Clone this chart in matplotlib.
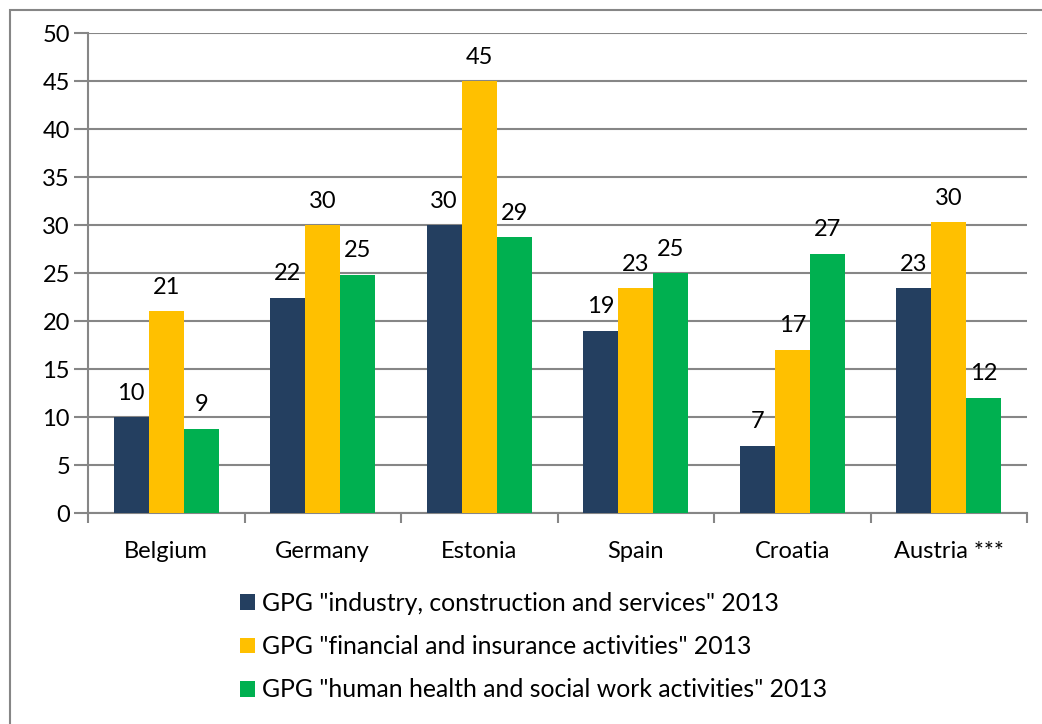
import numpy as np
import matplotlib.pyplot as plt
from matplotlib.patches import Rectangle

plt.rcParams['font.family'] = ['Lato', 'DejaVu Sans']

countries = ["Belgium", "Germany", "Estonia", "Spain", "Croatia", "Austria ***"]
industry = [10, 22.4, 30, 19, 7, 23.4]
financial = [21, 30, 45, 23.4, 17, 30.3]
health = [8.8, 24.8, 28.7, 25, 27, 12]
series_names = ['GPG "industry, construction and services" 2013',
                'GPG "financial and insurance activities" 2013',
                'GPG "human health and social work activities" 2013']
colors = ["#243f60", "#ffc000", "#00b050"]

fig = plt.figure(figsize=(10.42, 7.24), dpi=100)
# outer chart border
fig.patches.append(Rectangle((10 / 1042, -0.01), 1.02, 1 - 10 / 724 + 0.01,
                             transform=fig.transFigure, fill=False,
                             edgecolor="#868686", linewidth=1.5))
ax = fig.add_axes([88 / 1042, 1 - 513 / 724, (1027 - 88) / 1042, (513 - 33) / 724])

x = np.arange(len(countries))
w = 0.224
grey = "#868686"
fs = 17
for i, (vals, c) in enumerate(zip([industry, financial, health], colors)):
    pos = x + (i - 1) * w
    ax.bar(pos, vals, width=w, color=c, label=series_names[i], zorder=3)
    for p, v in zip(pos, vals):
        ax.text(p, v + 2.5, "%d" % round(v), ha="center", va="center", fontsize=fs)

ax.set_ylim(0, 50)
ax.set_xlim(-0.5, len(countries) - 0.5)
ax.set_yticks(range(0, 51, 5))
ax.yaxis.grid(True, color=grey, linewidth=1.5, zorder=0)
ax.set_axisbelow(True)
ax.set_xticks(x)
ax.set_xticklabels(countries, fontsize=fs)
ax.set_xticks(np.arange(-0.5, len(countries)), minor=True)
ax.tick_params(axis="x", which="major", length=0, pad=20)
ax.tick_params(axis="x", which="minor", length=7, width=1.5, color=grey)
ax.tick_params(axis="y", length=10, width=1.5, color=grey, labelsize=fs, pad=3)
for s in ["top", "right"]:
    ax.spines[s].set_visible(False)
for s in ["left", "bottom"]:
    ax.spines[s].set_color(grey)
    ax.spines[s].set_linewidth(1.5)

ax.legend(loc="upper left", bbox_to_anchor=(230 / 1042, 1 - 582 / 724),
          bbox_transform=fig.transFigure, frameon=False, fontsize=17.8,
          handlelength=0.6, handleheight=0.6, handletextpad=0.3,
          labelspacing=0.82, borderaxespad=0)

fig.savefig("out.png", dpi=100)
